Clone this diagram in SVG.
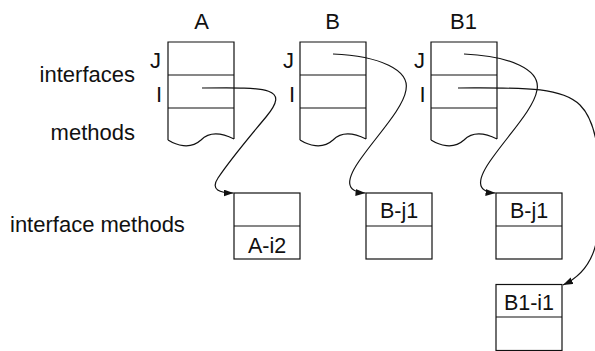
<svg xmlns="http://www.w3.org/2000/svg" width="595" height="351" viewBox="0 0 595 351">
<style>
  .box { fill: none; stroke: #111; stroke-width: 1.2; }
  .lbl { font-family: "Liberation Sans", Arial, Helvetica, sans-serif; font-size: 22px; fill: #111; }
  .bl { font-family: "Liberation Sans", Arial, Helvetica, sans-serif; font-size: 21.5px; fill: #111; text-anchor: middle; }
  .end { text-anchor: end; }
  .mid { text-anchor: middle; }
  .conn { fill: none; stroke: #111; stroke-width: 1.2; }
</style>
<defs>
  <marker id="arr" markerUnits="userSpaceOnUse" markerWidth="11" markerHeight="8" refX="10" refY="3.5" orient="auto">
    <path d="M0,0 L10,3.5 L0,7 z" fill="#111"/>
  </marker>
  <g id="tbl">
    <path class="box" d="M0 140 L0 42 L66 42 L66 139 M0 75 L66 75 M0 108 L66 108 M0 140 C8 145 22 150 33 140 C40 133 50 131 66 139"/>
  </g>
</defs>

<g id="row-labels">
  <text class="lbl end" x="135" y="82">interfaces</text>
  <text class="lbl end" x="135" y="140">methods</text>
  <text class="lbl" x="10" y="232">interface methods</text>
</g>

<g id="A">
  <text class="lbl mid" x="201.5" y="29">A</text>
  <text class="lbl end" x="161" y="68">J</text>
  <text class="lbl end" x="162" y="101.5">I</text>
  <use href="#tbl" x="168" y="0"/>
</g>

<g id="B">
  <text class="lbl mid" x="332.5" y="29">B</text>
  <text class="lbl end" x="294" y="68">J</text>
  <text class="lbl end" x="295" y="101.5">I</text>
  <use href="#tbl" x="300" y="0"/>
</g>

<g id="B1">
  <text class="lbl mid" x="463.5" y="29">B1</text>
  <text class="lbl end" x="425" y="68">J</text>
  <text class="lbl end" x="425.5" y="101.5">I</text>
  <use href="#tbl" x="431" y="0"/>
</g>

<g id="A-i2">
  <rect class="box" x="234" y="193" width="66" height="66"/>
  <line class="box" x1="234" y1="226" x2="300" y2="226"/>
  <text class="bl" x="267" y="253">A-i2</text>
</g>

<g id="B-j1">
  <rect class="box" x="366" y="193" width="66" height="66"/>
  <line class="box" x1="366" y1="226" x2="432" y2="226"/>
  <text class="bl" x="399" y="218">B-j1</text>
</g>

<g id="B1-j1">
  <rect class="box" x="496" y="193" width="66" height="66"/>
  <line class="box" x1="496" y1="226" x2="562" y2="226"/>
  <text class="bl" x="529" y="218">B-j1</text>
</g>

<g id="B1-i1">
  <rect class="box" x="496" y="284.5" width="66" height="66"/>
  <line class="box" x1="496" y1="317" x2="562" y2="317"/>
  <text class="bl" x="529" y="310">B1-i1</text>
</g>

<g id="connectors">
  <path class="conn" marker-end="url(#arr)" d="M202 88 C270 87 290 88 266 117 C245 142 228 163 218 178 C210 190 220 193 233.5 193"/>
  <path class="conn" marker-end="url(#arr)" d="M333 54 C380 56 410 70 406 90 C403 108 380 132 362 157 C345 180 345 192 365.5 193"/>
  <path class="conn" marker-end="url(#arr)" d="M464 54 C511 56 541 70 537 90 C534 108 511 132 493 157 C476 180 476 192 495.5 193"/>
  <path class="conn" marker-end="url(#arr)" d="M458 88 C520 88 560 86 580 105 C600 125 600 170 600 200 C600 240 595 270 563 285"/>
</g>
</svg>
